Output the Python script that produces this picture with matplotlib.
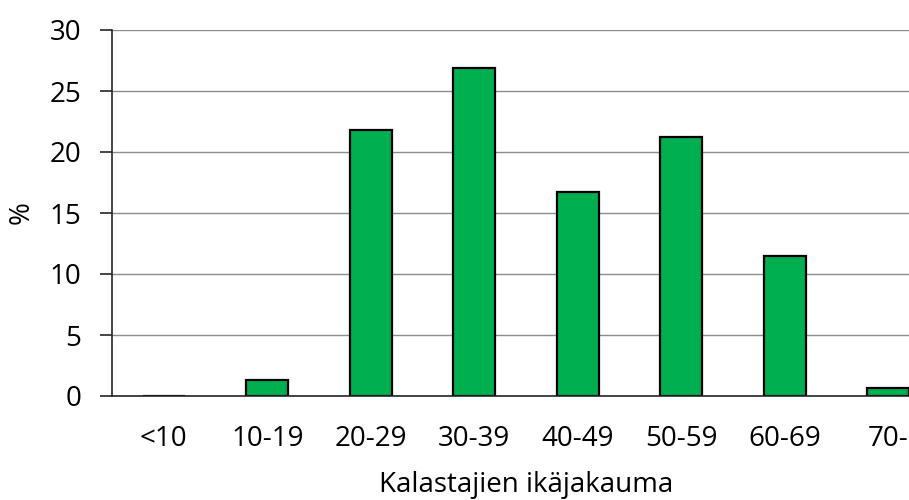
import matplotlib.pyplot as plt

categories = ['<10', '10-19', '20-29', '30-39', '40-49', '50-59', '60-69', '70-']
values = [0.0, 1.3, 21.8, 26.9, 16.7, 21.2, 11.5, 0.65]
y_ticks = [0, 5, 10, 15, 20, 25, 30]

plt.rcParams['font.family'] = ['Open Sans', 'DejaVu Sans']

fig = plt.figure(figsize=(9.09, 5.0), dpi=100)
# axes run past the right edge of the picture, as in the original crop
ax = fig.add_axes([112 / 909, 1 - 396 / 500, 828 / 909, 366 / 500])

x = range(len(categories))
ax.bar(x, values, width=0.41, color='#00B050', edgecolor='black', linewidth=1.6, zorder=2)

ax.set_xlim(-0.5, len(categories) - 0.5)
ax.set_ylim(0, 30)
ax.set_yticks(y_ticks)
ax.set_xticks(list(x))
ax.set_xticklabels(categories)
ax.grid(axis='y', color='#8c8c8c', linewidth=1.0, zorder=0)

for side in ('top', 'right'):
    ax.spines[side].set_visible(False)
for side in ('left', 'bottom'):
    ax.spines[side].set_color('#262626')
    ax.spines[side].set_linewidth(1.2)
    ax.spines[side].set_zorder(3)

ax.tick_params(axis='y', length=9, width=1.2, color='#262626', labelsize=20, pad=13)
ax.tick_params(axis='x', length=0, labelsize=20, pad=21)
ax.set_ylabel('%', fontsize=20, labelpad=10)
ax.set_xlabel('Kalastajien ikäjakauma', fontsize=20, labelpad=13)

fig.savefig('out.png', dpi=100)
